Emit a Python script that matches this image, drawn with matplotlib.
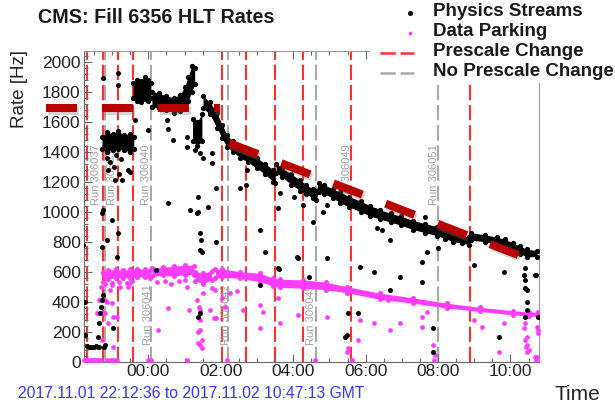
import matplotlib
matplotlib.use('Agg')
import matplotlib.pyplot as plt
from matplotlib.ticker import MultipleLocator
import matplotlib.patheffects as pe

plt.rcParams['font.family'] = ['Liberation Sans', 'DejaVu Sans']
plt.rcParams['lines.scale_dashes'] = False

# ---------------- data (hours relative to 2017-11-02 00:00, rates in Hz) ----------------
title = "CMS: Fill 6356 HLT Rates"
time_ticks = [0, 2, 4, 6, 8, 10]
time_labels = ["00:00", "02:00", "04:00", "06:00", "08:00", "10:00"]
x_range = [-1.79, 10.787]
y_range = [0, 2071]

# Physics Streams: dense clouds (time, lower edge, upper edge)
ps_b1_t = [-1.28, -1.14, -0.98, -0.84, -0.67, -0.51, -0.40]
ps_b1_lo = [1420, 1400, 1410, 1420, 1410, 1400, 1420]
ps_b1_hi = [1500, 1530, 1520, 1540, 1510, 1520, 1500]

ps_b2_t = [-0.42, -0.30, -0.20, -0.10, 0.00, 0.06]
ps_b2_lo = [1760, 1740, 1730, 1750, 1740, 1760]
ps_b2_hi = [1860, 1880, 1870, 1900, 1880, 1860]

ps_b3_t = [0.10, 0.30, 0.50, 0.70, 0.88, 1.00, 1.10, 1.20, 1.28]
ps_b3_lo = [1700, 1690, 1680, 1660, 1670, 1690, 1740, 1800, 1850]
ps_b3_hi = [1800, 1790, 1770, 1760, 1780, 1830, 1900, 1970, 1960]

ps_b4_t = [1.22, 1.35, 1.48]
ps_b4_lo = [1470, 1440, 1470]
ps_b4_hi = [1620, 1600, 1650]

ps_b5_t = [1.51, 1.70, 1.89, 2.04, 2.17, 2.34, 2.53, 2.75, 2.99, 3.22, 3.45, 3.50]
ps_b5_lo = [1690, 1650, 1560, 1490, 1430, 1400, 1360, 1330, 1290, 1250, 1200, 1190]
ps_b5_hi = [1770, 1730, 1660, 1580, 1510, 1470, 1430, 1400, 1360, 1320, 1280, 1260]

ps_b6_t = [3.53, 3.70, 3.95, 4.20, 4.35, 4.55, 4.63, 4.70, 4.85, 5.10, 5.30, 5.55,
           5.86, 6.13, 6.41, 6.69, 6.97, 7.32, 7.65, 7.98, 8.20, 8.42, 8.67, 8.85,
           8.92, 9.30, 9.63, 9.85, 10.07, 10.26, 10.45, 10.73]
ps_b6_lo = [1260, 1230, 1180, 1140, 1120, 1090, 1080, 1130, 1120, 1090, 1060, 1030,
            1000, 970, 950, 930, 910, 880, 860, 840, 820, 800, 790, 780,
            810, 800, 780, 770, 740, 720, 700, 700]
ps_b6_hi = [1320, 1290, 1250, 1210, 1180, 1150, 1140, 1190, 1180, 1150, 1130, 1100,
            1070, 1040, 1010, 990, 970, 940, 920, 900, 880, 860, 840, 830,
            860, 845, 830, 815, 790, 770, 750, 740]

# Physics Streams: isolated points
ps_t = [-1.80, -1.76, -1.75, -1.70, -1.65, -1.60, -1.55, -1.50, -1.45, -1.40, -1.35,
        -1.22, -1.20, -1.38, -1.35, -1.33, -1.31, -1.29, -1.26, -1.29, -1.29, -1.24,
        -1.15, -1.24, -0.85, -0.85, -1.01, -0.92, -0.83, -0.87, -0.98, -0.73, -0.55,
        -0.51, -0.37, 0.00, -1.15, -1.05, -0.95, -1.10, -0.90, -0.80, -0.75,
        0.51, 0.54, 0.69, 1.06, 1.06, 0.55, 1.15, 1.38, 1.43, 1.46, 1.43, 1.48, 1.66,
        1.38, 1.77, 1.77, 1.87, 1.87, 1.43, 1.51, 1.29, 0.22, 1.35, 1.38, 1.43,
        3.09, 3.61, 4.44, 2.53, 2.72, 2.69, 3.09, 3.22, 3.59, 3.59, 4.10,
        4.01, 4.14, 4.56, 4.28, 4.83, 4.93, 4.93, 3.64, 5.52, 5.48, 5.43, 5.85, 5.80,
        6.22, 6.26, 6.31, 6.45, 6.68, 6.68, 6.95, 7.55, 7.55, 7.69, 7.64, 7.87, 7.87,
        8.01, 8.98, 9.67, 9.81, 10.68,
        10.41, 10.36, 10.41, 10.41, 10.45, 10.45, 10.41, 10.76, 10.70, 10.45]
ps_r = [778, 400, 178, 105, 100, 100, 95, 100, 105, 100, 95,
        100, 111, 167, 256, 322, 367, 411, 444, 767, 991, 1011,
        811, 1889, 1922, 1844, 945, 1211, 858, 700, 224, 1211, 1278,
        1267, 1611, 1544, 1360, 1330, 1300, 1280, 1380, 1250, 1350,
        1611, 1551, 1478, 1500, 1433, 1058, 1011, 1000, 856, 811, 744, 733, 1033,
        1100, 1389, 1322, 1156, 800, 1391, 1358, 1411, 611, 989, 300, 322,
        511, 616, 567, 1156, 1278, 1178, 878, 733, 1022, 622, 700,
        1100, 689, 933, 1044, 1000, 689, 1044, 1122, 322, 178, 165, 633, 322,
        600, 1011, 889, 878, 811, 478, 567, 667, 533, 733, 967, 222, 67,
        756, 644, 167, 600, 578,
        623, 578, 544, 489, 478, 344, 300, 300, 578, 400]

# Data Parking: dense bands
dp_b1_t = [-1.26, -1.10, -0.90, -0.70, -0.50, -0.30, -0.10, 0.05]
dp_b1_lo = [530, 550, 560, 555, 560, 565, 565, 560]
dp_b1_hi = [600, 610, 615, 610, 615, 620, 615, 610]

dp_b2_t = [0.10, 0.40, 0.70, 1.00, 1.25]
dp_b2_lo = [570, 575, 570, 580, 580]
dp_b2_hi = [625, 630, 635, 645, 640]

dp_b3_t = [1.30, 1.50, 1.75]
dp_b3_lo = [540, 520, 545]
dp_b3_hi = [600, 590, 605]

dp_b4_t = [1.85, 2.04, 2.53, 3.09, 3.45, 3.64, 4.28, 4.90, 5.48, 6.41, 7.32, 8.24,
           9.16, 10.08, 10.50, 10.77]
dp_b4_lo = [560, 562, 556, 533, 505, 495, 490, 480, 460, 415, 390, 358, 335, 312, 305, 300]
dp_b4_hi = [615, 618, 600, 589, 556, 550, 545, 530, 500, 456, 425, 390, 362, 340, 332, 328]

# Data Parking: isolated points
dp_t = [-1.78, -1.72, -1.66, -1.60, -1.54, -1.48, -1.42, -1.36, -1.30, -1.14, -1.06,
        -0.98, -0.90, -0.86, 0.00, 0.06, 1.06, 2.18, 4.60, 5.62, 7.88, 10.70,
        -1.43, -1.35, -1.31, -1.26,
        -1.06, -1.15, -1.01, -1.20, -0.97, -1.29, -0.97, -1.24, -1.20, -1.10, -0.87,
        -0.78, -1.01, -0.55, -0.51, -0.32, 0.28, 0.55, 1.06, 1.34, 1.43, 1.43, 1.43,
        1.48, 1.43, 1.48, 1.52, 1.80, 1.84, 2.12, 2.03, 2.26, 2.62, 3.09, 3.18, 3.59,
        3.64, 1.13, 1.38, 1.38, 1.41, 1.70, 1.87, 1.75, 2.44, 3.09, 4.14, 4.93, 5.52,
        5.48, 5.80, 5.85, 6.22, 6.63, 6.68, 6.95, 7.55, 7.55, 7.69, 7.87, 7.92, 8.98,
        9.21, 9.67, 9.81, 10.41, 10.45, 10.45, 10.50, 10.73, 10.77, 10.68, 10.36,
        10.41, 10.43, 10.45, 10.77, 10.74,
        0.25, 0.45, 0.62, 0.85, 1.00, -1.20, -1.00, -0.80, -0.60, -0.45]
dp_r = [8, 8, 8, 8, 8, 8, 8, 8, 8, 8, 8,
        8, 8, 8, 8, 8, 8, 8, 8, 8, 8, 8,
        324, 411, 500, 591,
        478, 400, 389, 322, 300, 144, 100, 322, 411, 256, 300,
        500, 522, 500, 522, 567, 211, 356, 500, 411, 344, 278, 211,
        144, 111, 89, 456, 289, 478, 367, 422, 456, 344, 378, 333, 422,
        256, 344, 200, 122, 367, 344, 289, 489, 473, 222, 311, 300, 89,
        67, 144, 278, 256, 411, 211, 256, 300, 233, 333, 111, 44, 278,
        233, 67, 256, 256, 167, 111, 78, 233, 189, 33, 222,
        144, 100, 67, 211, 33,
        530, 540, 520, 535, 545, 520, 510, 530, 525, 535]

# Vertical markers
prescale_change_t = [-1.685, -1.26, -0.83, -0.43, 2.04, 2.70, 3.50, 4.28, 5.60, 8.89]
no_prescale_change_t = [-1.21, 0.075, 2.20, 4.63, 8.01]

# Run labels
run_names = ["Run 306037", "Run 306038", "Run 306040", "Run 306041", "Run 306042",
             "Run 306045", "Run 306049", "Run 306051"]
run_t = [-1.445, -1.003, -0.064, -0.008, 2.146, 4.49, 5.489, 7.892]
run_y = [1045, 1045, 1045, 111, 111, 111, 1045, 1045]

# Hand-drawn annotation (thick dashed guide)
anno_h_t = [-2.826, 1.981]
anno_h_r = [1691, 1691]
anno_s_t = [2.229, 10.213]
anno_s_r = [1458, 711]

legend_labels = ["Physics Streams", "Data Parking", "Prescale Change", "No Prescale Change"]
date_text = "2017.11.01 22:12:36 to 2017.11.02 10:47:13 GMT"

# ---------------- figure ----------------
W, H = 615, 411
fig = plt.figure(figsize=(W / 100, H / 100), dpi=100)
fig.patch.set_facecolor('white')
ax = fig.add_axes([83.5 / W, 1 - 361.7 / H, (539 - 83.5) / W, (361.7 - 51) / H])
ax.set_xlim(*x_range)
ax.set_ylim(*y_range)

RED = '#ff3030'
GRAY = '#a8a8a8'
MAG = '#ff3cff'
DASH = (0, (11, 3.5))

for t in prescale_change_t:
    ax.axvline(t, color=RED, lw=1.5, ls=DASH, zorder=1)
for t in no_prescale_change_t:
    ax.axvline(t, color=GRAY, lw=1.5, ls=DASH, zorder=1)

for name, t, y in zip(run_names, run_t, run_y):
    ax.text(t, y, name, rotation=90, ha='center', va='bottom', fontsize=8,
            color='#a0a0a0', zorder=2)

def band(t, lo, hi, color, ms, z):
    ax.fill_between(t, lo, hi, color=color, lw=0, zorder=z)
    ax.plot(t, lo, 'o', ms=ms, color=color, mew=0, zorder=z)
    ax.plot(t, hi, 'o', ms=ms, color=color, mew=0, zorder=z)

for t, lo, hi in [(dp_b1_t, dp_b1_lo, dp_b1_hi), (dp_b2_t, dp_b2_lo, dp_b2_hi),
                  (dp_b3_t, dp_b3_lo, dp_b3_hi), (dp_b4_t, dp_b4_lo, dp_b4_hi)]:
    band(t, lo, hi, MAG, 3.6, 3)
ax.plot(dp_t, dp_r, 'o', ms=3.4, color=MAG, mew=0, zorder=3, clip_on=False)

for t, lo, hi in [(ps_b1_t, ps_b1_lo, ps_b1_hi), (ps_b2_t, ps_b2_lo, ps_b2_hi),
                  (ps_b3_t, ps_b3_lo, ps_b3_hi), (ps_b4_t, ps_b4_lo, ps_b4_hi),
                  (ps_b5_t, ps_b5_lo, ps_b5_hi), (ps_b6_t, ps_b6_lo, ps_b6_hi)]:
    band(t, lo, hi, 'black', 3.8, 4)
ax.plot(ps_t, ps_r, 'o', ms=3.6, color='black', mew=0, zorder=4)

shadow = [pe.SimpleLineShadow(offset=(1.2, -1.8), shadow_color='#888888', alpha=0.35),
          pe.Normal()]
for tt, rr in [(anno_h_t, anno_h_r), (anno_s_t, anno_s_r)]:
    ax.plot(tt, rr, color='#b80000', lw=5.8, ls=(0, (22.3, 18.0)),
            dash_capstyle='butt', zorder=10, clip_on=False, path_effects=shadow)

ax.set_xticks(time_ticks)
ax.set_xticklabels(time_labels)
ax.xaxis.set_minor_locator(MultipleLocator(0.5))
ax.yaxis.set_major_locator(MultipleLocator(200))
ax.yaxis.set_minor_locator(MultipleLocator(40))
ax.tick_params(which='both', direction='in', top=True, right=False, color='#666666',
               labelsize=12.5, labelcolor='#222222', pad=2)
ax.tick_params(which='major', length=6, width=0.8)
ax.tick_params(which='minor', length=3, width=0.8)
for side in ['left', 'bottom']:
    ax.spines[side].set_color('#666666')
for side in ['top', 'right']:
    ax.spines[side].set_color('#999999')

# legend panel (covers top-right corner)
lax = fig.add_axes([370 / W, 1 - 83 / H, 245 / W, 83 / H])
lax.set_zorder(20)
lax.set_facecolor('white')
lax.set_xlim(370, 615)
lax.set_ylim(83, 0)
lax.set_xticks([])
lax.set_yticks([])
for s in lax.spines.values():
    s.set_visible(False)
lax.plot([410], [13], 'o', ms=3.6, color='black', mew=0)
lax.plot([410], [33], 'o', ms=2.6, color=MAG, mew=0)
lax.plot([380, 414], [53, 53], color=RED, lw=1.8, ls=DASH)
lax.plot([380, 414], [73, 73], color=GRAY, lw=1.8, ls=DASH)
for i, lab in enumerate(legend_labels):
    lax.text(433, 11 + 20 * i, lab, fontsize=13.5, fontweight='bold', color='#1a1a1a',
             va='center', ha='left', clip_on=False)

fig.text(38 / W, 1 - 17.5 / H, title, fontsize=14.2, fontweight='bold', color='#1a1a1a',
         va='center', ha='left')
fig.text(19 / W, 1 - 50 / H, 'Rate [Hz]', rotation=90, fontsize=13.5, color='#222222',
         ha='center', va='top')
fig.text(600 / W, 1 - 394 / H, 'Time', fontsize=15, color='#222222', ha='right', va='center')
fig.text(18 / W, 1 - 393 / H, date_text, fontsize=11.3, color='#3535ff', ha='left', va='center')

fig.savefig('out.png', dpi=100)
